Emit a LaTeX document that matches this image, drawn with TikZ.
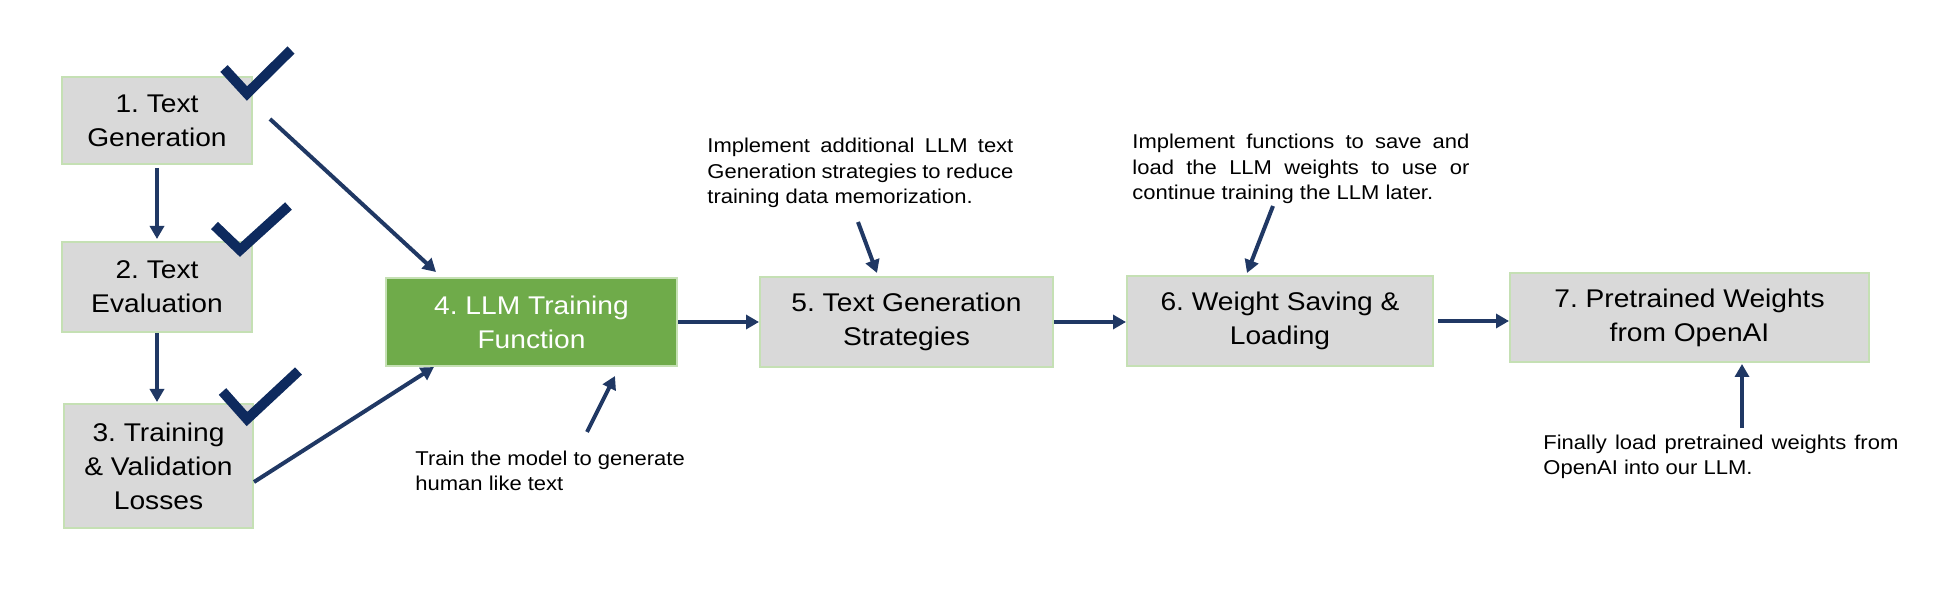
\documentclass[tikz,border=0pt]{standalone}
\usepackage{fontspec}
\setmainfont{Liberation Sans}[FakeStretch=1.1]
\usetikzlibrary{arrows.meta,calc}
\frenchspacing
\definecolor{boxgray}{HTML}{D9D9D9}
\definecolor{boxedge}{HTML}{C5E0B4}
\definecolor{boxgreen}{HTML}{6FAB4A}
\definecolor{arrowblue}{HTML}{203864}
\definecolor{checkblue}{HTML}{0E2A5E}
\begin{document}
\begin{tikzpicture}[x=0.5pt,y=-0.5pt,
  stepbox/.style={draw=boxedge, line width=1pt, fill=boxgray, inner sep=0pt, align=center, font=\fontsize{12.8}{17}\selectfont, text=black},
  greenbox/.style={stepbox, fill=boxgreen, text=white},
  arr/.style={draw=arrowblue, line width=2pt, -{Triangle[length=6.5pt,width=7pt]}},
  note/.style={inner sep=0pt, anchor=base west, font=\fontsize{10}{12.75}\selectfont},
  tick/.style={draw=checkblue, line width=5pt, line join=miter}
]
\useasboundingbox (0,0) rectangle (1950,604);

% boxes
\node[stepbox, minimum width=95pt, minimum height=43.5pt] (b1) at (157,120.5) {1. Text\\Generation};
\node[stepbox, minimum width=95pt, minimum height=45pt] (b2) at (157,287) {2. Text\\Evaluation};
\node[stepbox, minimum width=94.5pt, minimum height=62pt] (b3) at (158.5,466) {3. Training\\\& Validation\\Losses};
\node[greenbox, minimum width=145.5pt, minimum height=44pt] (b4) at (531.5,322) {4. LLM Training\\Function};
\node[stepbox, minimum width=146.5pt, minimum height=45pt] (b5) at (906.5,322) {5. Text Generation\\Strategies};
\node[stepbox, minimum width=153pt, minimum height=45pt] (b6) at (1280,321) {6. Weight Saving \&\\Loading};
\node[stepbox, minimum width=179.5pt, minimum height=44.5pt] (b7) at (1689.5,317.5) {7. Pretrained Weights\\from OpenAI};

% annotations
\node[note] (a4) at (415,465) {\parbox[t]{150pt}{Train the model to generate\\human like text}};
\node[note] (a5) at (707,153) {\parbox[t]{153pt}{\makebox[\linewidth][s]{Implement additional LLM text}\\\makebox[\linewidth][s]{Generation strategies to reduce}\\training data memorization.}};
\node[note] (a6) at (1132,149) {\parbox[t]{168.5pt}{\makebox[\linewidth][s]{Implement functions to save and}\\\makebox[\linewidth][s]{load the LLM weights to use or}\\continue training the LLM later.}};
\node[note] (a7) at (1543,449) {\parbox[t]{177.5pt}{\makebox[\linewidth][s]{Finally load pretrained weights from}\\OpenAI into our LLM.}};

% check marks
\draw[tick] (224,68.5) -- (247,93.5) -- (291,50);
\draw[tick] (214.5,225.5) -- (240,250) -- (288.5,206);
\draw[tick] (222.5,391.5) -- (247,419) -- (298.5,371);

% connectors
\draw[arr, shorten <=1.5pt, shorten >=1pt] (b1.south) -- (b2.north);
\draw[arr, shorten >=0.5pt] (b2.south) -- (b2.south |- b3.north);
\draw[arr] ($(b1.east)+(17,-1.5)$) -- ($(b4.north west)+(51,-5)$);
\draw[arr] ($(b3.east)+(0,16)$) -- ($(b4.south west)+(49,0)$);
\draw[arr] (b4.east) -- (b4.east -| b5.west);
\draw[arr] (b5.east) -- (b5.east -| b6.west);
\draw[arr, shorten <=2pt] (b6.east) -- (b6.east -| b7.west);
\draw[arr] ($(a4.base west)+(172,-33)$) -- ($(b4.south)+(83.5,9)$);
\draw[arr] ($(a5.base west)+(151,69)$) -- ($(b5.north)+(-29.5,-3)$);
\draw[arr] ($(a6.base west)+(141,57)$) -- ($(b6.north)+(-33,-2)$);
\draw[arr] ($(a7.base west)+(199,-21)$) -- ($(b7.south)+(52.5,1)$);
\end{tikzpicture}
\end{document}
